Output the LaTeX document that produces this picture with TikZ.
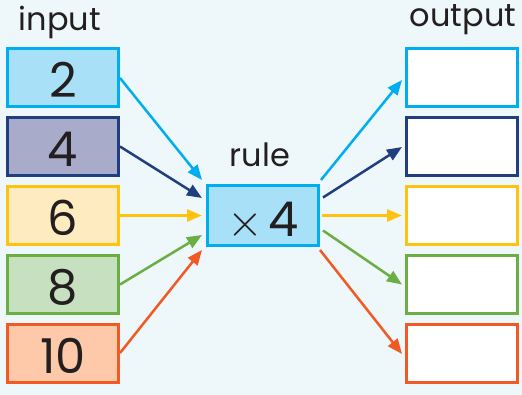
\documentclass[tikz,border=0pt]{standalone}
\usepackage{fontspec}
\setmainfont{Poppins}
\newfontfamily\lmfont{lmroman10-regular.otf}
\usetikzlibrary{arrows.meta}
\definecolor{bg}{HTML}{EEF7F9}
\definecolor{cy}{HTML}{00AEEF}
\definecolor{cyf}{HTML}{A8E0F8}
\definecolor{nv}{HTML}{213F7E}
\definecolor{nvf}{HTML}{A9ABCB}
\definecolor{ye}{HTML}{FFC20E}
\definecolor{yef}{HTML}{FFEBC0}
\definecolor{gr}{HTML}{6AAE44}
\definecolor{grf}{HTML}{C7E1C0}
\definecolor{orr}{HTML}{F15A24}
\definecolor{orf}{HTML}{FDC9A9}
\definecolor{ink}{HTML}{231F20}
\begin{document}
\begin{tikzpicture}[x=1pt,y=-1pt,
  box/.style={draw,line width=3pt,minimum width=111pt,minimum height=58pt,inner sep=0pt},
  num/.style={anchor=base,font=\fontsize{48}{48}\selectfont,text=ink,inner sep=0pt},
  lab/.style={anchor=base,font=\fontsize{32}{32}\selectfont,text=ink,inner sep=0pt},
  arr/.style={line width=2.5pt,-{Triangle[length=15pt,width=12pt]}}]
\fill[bg] (0,0) rectangle (522,395);
\useasboundingbox (0,0) rectangle (522,395);
% input boxes
\node[box,draw=cy,fill=cyf] (i1) at (63,78) {};
\node[box,draw=nv,fill=nvf] (i2) at (63,146.5) {};
\node[box,draw=ye,fill=yef] (i3) at (63,215.5) {};
\node[box,draw=gr,fill=grf] (i4) at (63,284.5) {};
\node[box,draw=orr,fill=orf] (i5) at (63,353) {};
\node[num] (n1) at (63,98) {2};
\node[num] (n2) at (63,166.5) {4};
\node[num] (n3) at (63,235.5) {6};
\node[num] (n4) at (63,304.5) {8};
\node[num] (n5) at (63,373) {10};
% output boxes
\node[box,draw=cy,fill=white] (o1) at (462,78) {};
\node[box,draw=nv,fill=white] (o2) at (462,146.5) {};
\node[box,draw=ye,fill=white] (o3) at (462,215.5) {};
\node[box,draw=gr,fill=white] (o4) at (462,284.5) {};
\node[box,draw=orr,fill=white] (o5) at (462,353) {};
% rule box
\node[box,draw=cy,fill=cyf,minimum height=60pt] (rule) at (263,215.5) {};
\node[num] (rt) at (263,237) {{\lmfont\fontsize{46}{46}\selectfont ×}\hspace{6pt}4};
% labels
\node[lab] (lin) at (60,31) {input};
\node[lab] (lout) at (463,27) {output};
\node[lab] (lrule) at (260,167) {rule};
% arrows in
\draw[arr,cy] (i1.east) -- ([shift={(-4,-35.5)}]rule.west);
\draw[arr,nv] (i2.east) -- ([shift={(-4,-17.5)}]rule.west);
\draw[arr,ye] (i3.east) -- ([shift={(-4,0)}]rule.west);
\draw[arr,gr] (i4.east) -- ([shift={(-4,19.5)}]rule.west);
\draw[arr,orr] (i5.east) -- ([shift={(-4,34.5)}]rule.west);
% arrows out
\draw[arr,cy] ([shift={(1,-35.5)}]rule.east) -- ([shift={(-3,2)}]o1.west);
\draw[arr,nv] ([shift={(3,-18)}]rule.east) -- ([shift={(-3,0.5)}]o2.west);
\draw[arr,ye] ([shift={(2,0)}]rule.east) -- ([shift={(-3,0)}]o3.west);
\draw[arr,gr] ([shift={(3,15)}]rule.east) -- ([shift={(-3,0)}]o4.west);
\draw[arr,orr] ([shift={(0,34.5)}]rule.east) -- ([shift={(-3,1)}]o5.west);
\end{tikzpicture}
\end{document}
